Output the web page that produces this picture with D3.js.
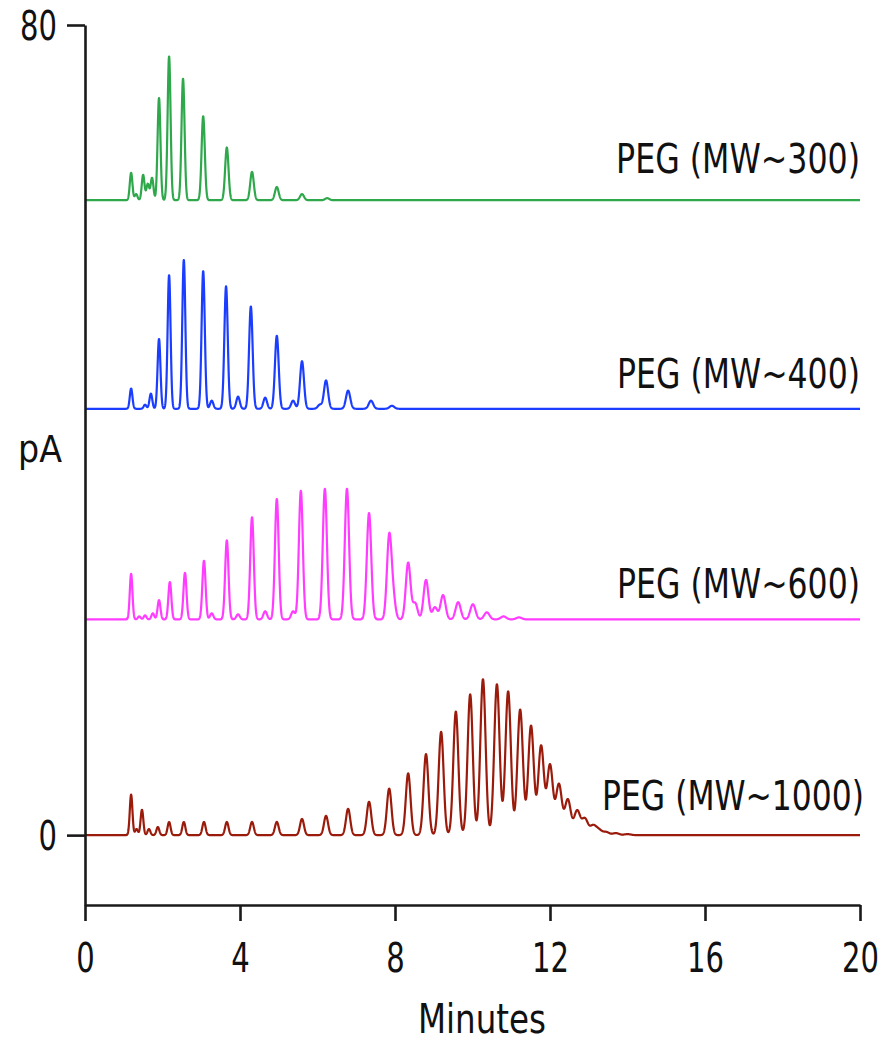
<!DOCTYPE html>
<html>
<head>
<meta charset="utf-8">
<script src="https://cdn.jsdelivr.net/npm/d3@7"></script>
<style>
  html, body { margin: 0; padding: 0; background: #fff; }
  svg { display: block; }
  text { font-family: "Liberation Sans Narrow", "Arial Narrow", "DejaVu Sans Condensed", sans-serif; fill: #111; }
</style>
</head>
<body>
<script>
// ---- Data ----
const xTicks = [0, 4, 8, 12, 16, 20];
const yTicks = [0, 80];
const xLabel = "Minutes";
const yLabel = "pA";

const seriesNames = ["PEG (MW~300)", "PEG (MW~400)", "PEG (MW~600)", "PEG (MW~1000)"];
const seriesOffsets = [62.7, 42.1, 21.3, 0];   // pA baseline of each stacked trace

// peak retention times (min) and heights (pA above baseline)
const peg300Times   = [1.19, 1.32, 1.50, 1.62, 1.73, 1.91, 2.17, 2.53, 3.05, 3.66, 4.31, 4.95, 5.60, 6.25];
const peg300Heights = [2.7, 0.6, 2.5, 1.6, 2.2, 10.1, 14.2, 12.0, 8.3, 5.2, 2.8, 1.3, 0.6, 0.2];

const peg400Times   = [1.19, 1.55, 1.70, 1.91, 2.17, 2.55, 3.05, 3.27, 3.64, 3.95, 4.28, 4.65, 4.95, 5.37, 5.60, 6.06, 6.22, 6.79, 7.38, 7.92];
const peg400Heights = [2.0, 0.4, 1.5, 6.9, 13.2, 14.7, 13.6, 0.8, 12.1, 1.2, 10.1, 1.1, 7.2, 0.8, 4.7, 0.4, 2.8, 1.8, 0.8, 0.3];

const peg600Times   = [1.19, 1.40, 1.55, 1.75, 1.91, 2.19, 2.58, 3.07, 3.27, 3.66, 3.95, 4.31, 4.65, 4.95, 5.37, 5.57, 6.19, 6.76, 7.33, 7.95, 7.85, 8.34, 8.52, 8.80, 9.03, 9.24, 9.63, 10.01, 10.37, 10.80, 11.20];
const peg600Heights = [4.5, 0.3, 0.4, 0.6, 1.9, 3.7, 4.6, 5.8, 0.6, 7.8, 0.5, 10.1, 0.8, 11.9, 0.8, 12.7, 12.9, 12.9, 10.5, 2.1, 8.0, 5.6, 1.6, 3.9, 1.2, 2.4, 1.7, 1.5, 0.7, 0.3, 0.2];

const peg1000Times   = [1.19, 1.33, 1.47, 1.65, 1.88, 2.17, 2.55, 3.07, 3.66, 4.31, 4.95, 5.60, 6.22, 6.79, 7.33, 7.85, 8.34, 8.80, 9.19, 9.57, 9.94, 10.27, 10.63, 10.92, 11.23, 11.51, 11.77, 12.00, 12.23, 12.46, 12.70, 12.90, 13.11, 13.26, 13.45, 13.70, 14.00];
const peg1000Heights = [4.0, 0.6, 2.5, 0.6, 0.8, 1.3, 1.3, 1.3, 1.3, 1.3, 1.3, 1.6, 1.9, 2.6, 3.3, 4.6, 6.1, 8.0, 10.2, 12.2, 13.9, 15.4, 14.9, 14.2, 12.4, 10.8, 8.8, 6.9, 5.0, 3.5, 2.4, 1.6, 0.9, 0.5, 0.3, 0.2, 0.1];

const seriesTimes   = [peg300Times, peg400Times, peg600Times, peg1000Times];
const seriesHeights = [peg300Heights, peg400Heights, peg600Heights, peg1000Heights];
const seriesColors  = ["#2fa84c", "#1b3dff", "#ff3cff", "#9a1b0b"];

// ---- Layout ----
const W = 895, H = 1041;
const mLeft = 85, mRight = 860, mTop = 25, axisY = 905;
const yBottomVal = -6.9;
const digitW = 18.5;

const svg = d3.select("body").append("svg").attr("width", W).attr("height", H);

const x = d3.scaleLinear().domain([0, 20]).range([mLeft, mRight]);
const y = d3.scaleLinear().domain([yBottomVal, 80]).range([axisY, mTop]);

// peak shape: gaussian with width growing slowly with retention time
function sigmaAt(t) { return 0.03 + 0.0037 * t; }
function traceValue(t, times, heights) {
  let v = 0;
  for (let i = 0; i < times.length; i++) {
    const s = sigmaAt(times[i]);
    const d = (t - times[i]) / s;
    if (Math.abs(d) < 8) v += heights[i] * Math.exp(-0.5 * d * d);
  }
  return v;
}
const tSamples = d3.range(0, 20.0001, 0.004);

const line = d3.line().x(d => x(d[0])).y(d => y(d[1]));

seriesNames.forEach((name, k) => {
  const pts = tSamples.map(t => [t, seriesOffsets[k] + traceValue(t, seriesTimes[k], seriesHeights[k])]);
  svg.append("path")
    .attr("d", line(pts))
    .attr("fill", "none")
    .attr("stroke", seriesColors[k])
    .attr("stroke-width", 2.2)
    .attr("stroke-linejoin", "round");
});

// helper: draw text anchored at (ax, baseline) squeezed horizontally to a target width
function condensedText(parent, str, ax, by, anchor, targetW, size) {
  const g = parent.append("g");
  const t = g.append("text").style("font-size", size + "px").attr("text-anchor", anchor).text(str);
  const natural = t.node().getComputedTextLength();
  const sx = targetW / natural;
  g.attr("transform", `translate(${ax},${by}) scale(${sx},1)`);
  return t;
}

// ---- Axes ----
const yAxis = svg.append("g")
  .attr("transform", `translate(${mLeft},0)`)
  .call(d3.axisLeft(y).tickValues(yTicks).tickSize(18).tickSizeOuter(0).tickFormat(d3.format("d")));
const xAxis = svg.append("g")
  .attr("transform", `translate(0,${axisY})`)
  .call(d3.axisBottom(x).tickValues(xTicks).tickSize(16).tickSizeOuter(0).tickFormat(d3.format("d")));

[yAxis, xAxis].forEach(g => {
  g.selectAll("path.domain").attr("stroke", "#1a1a1a").attr("stroke-width", 2.6);
  g.selectAll(".tick line").attr("stroke", "#1a1a1a").attr("stroke-width", 2.6);
});
// replace default tick texts by condensed ones
yAxis.selectAll(".tick").each(function (d) {
  d3.select(this).select("text").remove();
  condensedText(d3.select(this), d3.format("d")(d), -28, 14, "end", String(d).length * digitW, 40);
});
xAxis.selectAll(".tick").each(function (d) {
  d3.select(this).select("text").remove();
  condensedText(d3.select(this), d3.format("d")(d), 0, 67, "middle", String(d).length * digitW, 40);
});

// axis titles
condensedText(svg, yLabel, 40, 462, "middle", 44, 38);
condensedText(svg, xLabel, 482, 1033, "middle", 128, 40);

// series labels
const labelBaselines = [173, 388, 598, 810];
const labelRight = [860, 860, 860, 864];
const labelWidth = [244, 243, 243, 262];
seriesNames.forEach((name, k) => {
  condensedText(svg, name, labelRight[k], labelBaselines[k], "end", labelWidth[k], 40);
});
</script>
</body>
</html>
